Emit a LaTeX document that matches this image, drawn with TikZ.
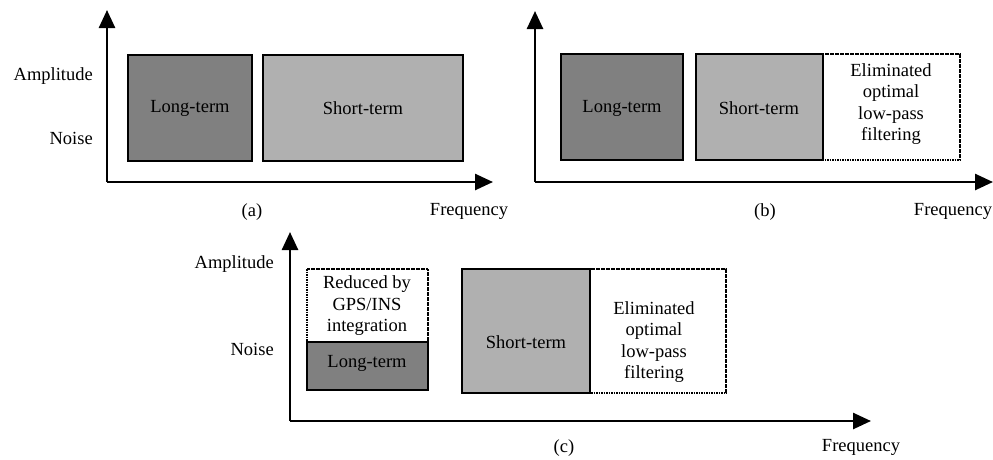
\documentclass[tikz,border=0pt]{standalone}
\usepackage{fontspec}
\setmainfont{Liberation Serif}
\usetikzlibrary{arrows.meta}
\definecolor{darkfill}{RGB}{128,128,128}
\definecolor{lightfill}{RGB}{176,176,176}
\tikzset{
  axis/.style={line width=2.6pt,-{Triangle[length=18pt,width=16pt]}},
  solidbox/.style={draw=black,line width=2.6pt},
  dotbox/.style={draw=black,line width=2.2pt,dash pattern=on 1.6pt off 0.9pt},
  lbl/.style={font=\fontsize{18.5}{21.5}\selectfont,align=center,inner sep=0pt},
}
\begin{document}
\begin{tikzpicture}[x=1pt,y=-1pt]
\useasboundingbox (0,0) rectangle (993,459);
% ---------- (a)
\fill[darkfill] (128,55) rectangle (252,161);
\draw[solidbox] (128,55) rectangle (252,161);
\fill[lightfill] (263,55) rectangle (463,161);
\draw[solidbox] (263,55) rectangle (463,161);
\node[lbl] (altA) at (190,108) {Long-term};
\node[lbl] (stA) at (363,108) {Short-term};
\coordinate (oA) at (107,182);
\coordinate (yA) at (107,10);
\coordinate (xA) at (493,182);
\draw[axis] (oA) -- (yA);
\draw[axis] (oA) -- (xA);
\node[lbl,anchor=east] (ampA) at (93,76) {Amplitude};
\node[lbl,anchor=east] (noiseA) at (93,138) {Noise};
\node[lbl] (capA) at (252,212) {(a)};
\node[lbl] (freqA) at (469,211) {Frequency};
% ---------- (b)
\fill[darkfill] (561,54) rectangle (683,160);
\draw[solidbox] (561,54) rectangle (683,160);
\fill[lightfill] (696,54) rectangle (823,160);
\draw[dotbox] (823,54) rectangle (960,160);
\draw[solidbox] (696,54) rectangle (823,160);
\node[lbl] (ltB) at (622,108) {Long-term};
\node[lbl] (stB) at (759,108) {Short-term};
\node[lbl] (elB) at (891,104) {Eliminated\\optimal\\low-pass\\filtering};
\coordinate (oB) at (535,182);
\coordinate (yB) at (535,11);
\coordinate (xB) at (993,182);
\draw[axis] (oB) -- (yB);
\draw[axis] (oB) -- (xB);
\node[lbl] (capB) at (765,212) {(b)};
\node[lbl] (freqB) at (953,211) {Frequency};
% ---------- (c)
\draw[dotbox] (307,269) rectangle (428,342);
\fill[darkfill] (307,342) rectangle (428,390);
\draw[solidbox] (307,342) rectangle (428,390);
\node[lbl] (redC) at (367,306) {Reduced by\\GPS/INS\\integration};
\node[lbl] (ltC) at (367,363) {Long-term};
\fill[lightfill] (462,269) rectangle (590,393);
\draw[dotbox] (590,269) rectangle (726,393);
\draw[solidbox] (462,269) rectangle (590,393);
\node[lbl] (stC) at (526,342) {Short-term};
\node[lbl] (elC) at (654,342) {Eliminated\\optimal\\low-pass\\filtering};
\coordinate (oC) at (290,421);
\coordinate (yC) at (290,232);
\coordinate (xC) at (871,421);
\draw[axis] (oC) -- (yC);
\draw[axis] (oC) -- (xC);
\node[lbl,anchor=east] (ampC) at (274,264) {Amplitude};
\node[lbl,anchor=east] (noiseC) at (274,349) {Noise};
\node[lbl] (capC) at (564,448) {(c)};
\node[lbl] (freqC) at (861,447) {Frequency};
\end{tikzpicture}
\end{document}
